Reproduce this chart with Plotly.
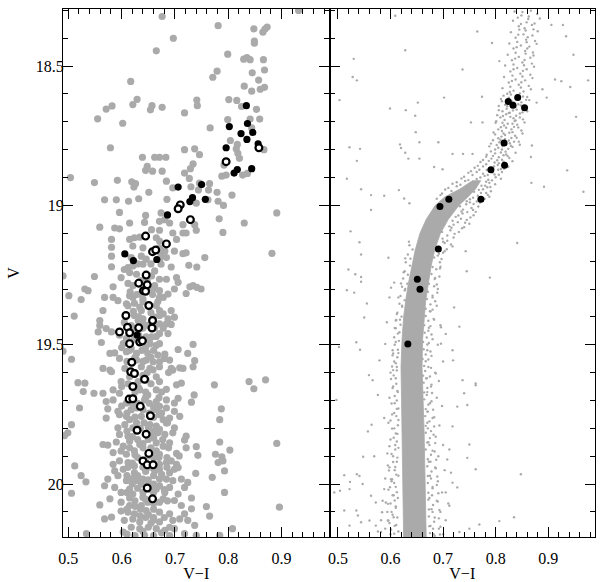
import plotly.graph_objects as go

# ---- left panel: V-I vs V, gray field, black and open stars ----
left_gray = [
    (0.932, 18.30), (0.676, 18.322), (0.781, 18.355), (0.697, 18.40), (0.848, 18.366), (0.865, 18.378), (0.869, 18.367),
    (0.873, 18.36), (0.849, 18.41), (0.849, 18.418), (0.665, 18.445), (0.799, 18.457), (0.829, 18.475), (0.835, 18.469),
    (0.841, 18.477), (0.866, 18.477), (0.868, 18.514), (0.779, 18.518), (0.771, 18.54), (0.845, 18.524), (0.857, 18.55),
    (0.617, 18.555), (0.830, 18.572), (0.86, 18.583), (0.868, 18.576), (0.844, 18.59), (0.629, 18.619), (0.621, 18.638),
    (0.801, 18.62), (0.816, 18.623), (0.741, 18.622), (0.742, 18.642), (0.657, 18.642), (0.654, 18.657), (0.676, 18.648),
    (0.582, 18.643), (0.571, 18.654), (0.825, 18.645), (0.718, 18.668), (0.853, 18.655), (0.555, 18.689), (0.602, 18.705),
    (0.799, 18.692), (0.841, 18.69), (0.859, 18.69), (0.766, 18.722), (0.844, 18.722), (0.804, 18.767), (0.579, 18.793),
    (0.718, 18.80), (0.737, 18.797), (0.746, 18.818), (0.817, 18.781), (0.815, 18.797), (0.818, 18.813), (0.821, 18.831),
    (0.867, 18.80), (0.639, 18.827), (0.662, 18.827), (0.671, 18.827), (0.683, 18.827), (0.734, 18.851), (0.729, 18.868),
    (0.648, 18.86), (0.645, 18.874), (0.658, 18.877), (0.676, 18.877), (0.792, 18.855), (0.718, 18.884), (0.727, 18.903),
    (0.788, 18.895), (0.796, 18.891), (0.827, 18.891), (0.836, 18.885), (0.504, 18.90), (0.549, 18.918), (0.592, 18.91),
    (0.619, 18.915), (0.626, 18.922), (0.623, 18.934), (0.684, 18.913), (0.730, 18.933), (0.744, 18.945), (0.765, 18.922),
    (0.763, 18.945), (0.779, 18.953), (0.807, 18.963), (0.651, 18.953), (0.696, 18.937), (0.746, 18.92),
    (0.568, 18.98), (0.59, 18.98), (0.613, 18.985), (0.632, 18.976), (0.685, 18.978), (0.740, 18.992), (0.762, 18.98),
    (0.781, 18.985), (0.791, 19.0),
    (0.596, 19.025), (0.645, 19.036), (0.674, 19.027), (0.783, 19.048), (0.830, 19.063), (0.891, 19.027),
    (0.615, 19.063), (0.643, 19.061), (0.671, 19.057), (0.681, 19.051), (0.690, 19.063), (0.715, 19.069), (0.737, 19.069),
    (0.559, 19.078), (0.587, 19.081), (0.596, 19.084), (0.656, 19.087), (0.671, 19.089), (0.696, 19.099), (0.715, 19.099),
    (0.721, 19.099), (0.740, 19.089), (0.790, 19.097), (0.581, 19.122), (0.615, 19.122), (0.624, 19.116), (0.634, 19.114),
    (0.665, 19.116), (0.671, 19.128), (0.703, 19.122), (0.581, 19.15), (0.621, 19.146), (0.640, 19.152), (0.671, 19.152),
    (0.681, 19.164), (0.699, 19.164), (0.715, 19.173), (0.721, 19.17), (0.674, 19.176), (0.581, 19.182), (0.618, 19.187),
    (0.637, 19.182), (0.646, 19.193), (0.671, 19.193), (0.684, 19.187), (0.756, 19.187), (0.882, 19.172), (0.581, 19.22),
    (0.612, 19.223), (0.621, 19.217), (0.640, 19.211), (0.674, 19.211), (0.693, 19.221), (0.726, 19.215), (0.741, 19.221),
    (0.490, 19.253), (0.549, 19.255), (0.599, 19.259), (0.615, 19.241), (0.628, 19.247), (0.656, 19.253), (0.671, 19.265),
    (0.684, 19.265), (0.703, 19.259), (0.706, 19.276), (0.584, 19.292), (0.612, 19.28), (0.621, 19.288), (0.659, 19.30),
    (0.662, 19.288), (0.671, 19.306), (0.687, 19.318), (0.699, 19.30), (0.721, 19.316), (0.728, 19.292), (0.734, 19.288),
    (0.741, 19.294), (0.749, 19.30), (0.531, 19.30), (0.537, 19.306), (0.501, 19.324), (0.524, 19.338), (0.568, 19.33),
    (0.584, 19.33), (0.593, 19.342), (0.615, 19.324), (0.621, 19.33), (0.634, 19.318), (0.640, 19.336), (0.671, 19.33),
    (0.678, 19.33), (0.609, 19.353), (0.624, 19.351), (0.634, 19.365), (0.637, 19.377), (0.665, 19.359), (0.671, 19.377),
    (0.693, 19.377), (0.565, 19.377), (0.511, 19.397), (0.559, 19.413), (0.624, 19.395), (0.631, 19.413), (0.640, 19.407),
    (0.671, 19.395), (0.678, 19.389), (0.699, 19.401), (0.687, 19.407), (0.559, 19.431), (0.571, 19.442), (0.618, 19.431),
    (0.640, 19.425), (0.659, 19.425), (0.671, 19.425), (0.684, 19.425), (0.693, 19.427), (0.662, 19.44), (0.624, 19.442),
    (0.556, 19.454), (0.581, 19.454), (0.596, 19.466), (0.609, 19.478), (0.628, 19.46), (0.646, 19.472), (0.671, 19.46),
    (0.687, 19.46), (0.656, 19.472), (0.562, 19.492), (0.603, 19.496), (0.615, 19.49), (0.653, 19.496), (0.665, 19.502),
    (0.671, 19.496), (0.734, 19.499), (0.618, 19.514), (0.490, 19.523), (0.578, 19.531), (0.587, 19.529), (0.609, 19.525),
    (0.628, 19.531), (0.649, 19.531), (0.668, 19.537), (0.681, 19.534), (0.706, 19.517), (0.724, 19.531), (0.506, 19.552),
    (0.596, 19.549), (0.628, 19.555), (0.646, 19.555), (0.659, 19.561), (0.671, 19.561), (0.737, 19.557), (0.690, 19.555),
    (0.565, 19.585), (0.578, 19.591), (0.606, 19.585), (0.637, 19.579), (0.653, 19.585), (0.671, 19.579), (0.693, 19.585),
    (0.715, 19.585), (0.734, 19.579),
    (0.581, 19.597), (0.659, 19.59), (0.696, 19.591), (0.709, 19.583), (0.518, 19.636), (0.531, 19.638), (0.599, 19.632),
    (0.631, 19.632), (0.646, 19.626), (0.671, 19.632), (0.703, 19.644), (0.712, 19.638), (0.774, 19.644), (0.839, 19.632),
    (0.848, 19.658), (0.870, 19.626), (0.528, 19.668), (0.548, 19.674), (0.565, 19.674), (0.584, 19.662), (0.596, 19.674),
    (0.634, 19.662), (0.649, 19.68), (0.665, 19.662), (0.684, 19.66), (0.736, 19.68), (0.706, 19.692), (0.571, 19.704),
    (0.584, 19.698), (0.609, 19.709), (0.643, 19.698), (0.665, 19.704), (0.684, 19.698), (0.699, 19.709), (0.731, 19.706),
    (0.671, 19.721), (0.521, 19.727), (0.574, 19.73), (0.593, 19.739), (0.618, 19.733), (0.628, 19.727), (0.640, 19.733),
    (0.665, 19.733), (0.684, 19.727), (0.699, 19.739), (0.787, 19.73), (0.571, 19.763), (0.596, 19.751), (0.609, 19.757),
    (0.615, 19.769), (0.637, 19.757), (0.671, 19.751), (0.678, 19.769), (0.690, 19.763), (0.709, 19.757), (0.784, 19.769),
    (0.506, 19.787), (0.593, 19.798), (0.606, 19.787), (0.621, 19.798), (0.653, 19.787), (0.665, 19.792), (0.671, 19.804),
    (0.699, 19.798), (0.684, 19.781), (0.493, 19.826), (0.499, 19.816), (0.596, 19.822), (0.612, 19.828), (0.656, 19.828),
    (0.668, 19.816), (0.681, 19.822), (0.696, 19.816), (0.718, 19.842), (0.721, 19.828), (0.565, 19.858), (0.574, 19.86),
    (0.590, 19.849), (0.603, 19.864), (0.615, 19.846), (0.634, 19.858), (0.665, 19.852), (0.678, 19.864), (0.690, 19.852),
    (0.721, 19.87), (0.740, 19.866), (0.784, 19.849), (0.803, 19.878), (0.891, 19.854), (0.584, 19.887), (0.599, 19.881),
    (0.609, 19.893), (0.624, 19.881), (0.665, 19.881), (0.671, 19.893), (0.703, 19.89), (0.708, 19.899), (0.743, 19.897),
    (0.776, 19.893), (0.788, 19.902), (0.512, 19.935), (0.584, 19.929), (0.596, 19.917), (0.612, 19.923), (0.624, 19.935),
    (0.671, 19.929), (0.684, 19.923), (0.693, 19.917), (0.703, 19.929), (0.781, 19.923), (0.790, 19.917), (0.524, 19.97),
    (0.587, 19.953), (0.603, 19.947), (0.624, 19.959), (0.662, 19.953), (0.671, 19.947), (0.690, 19.959), (0.699, 19.947),
    (0.706, 19.941), (0.793, 19.953), (0.739, 19.962), (0.770, 19.976), (0.533, 19.992), (0.574, 19.982), (0.593, 19.97),
    (0.609, 19.988), (0.628, 19.988), (0.640, 19.982), (0.671, 19.982), (0.684, 19.982), (0.696, 19.988), (0.712, 19.982),
    (0.724, 19.994), (0.506, 20.033), (0.568, 20.006), (0.587, 20.012), (0.615, 20.018), (0.637, 20.0), (0.671, 20.006),
    (0.665, 20.018), (0.690, 20.012), (0.718, 20.012), (0.793, 20.03), (0.578, 20.053), (0.599, 20.03), (0.621, 20.036),
    (0.640, 20.047), (0.678, 20.053), (0.681, 20.03), (0.706, 20.036), (0.731, 20.05), (0.896, 20.083), (0.559, 20.075),
    (0.599, 20.065), (0.615, 20.077), (0.637, 20.077), (0.649, 20.065), (0.671, 20.065), (0.699, 20.059), (0.712, 20.077),
    (0.731, 20.089), (0.759, 20.081), (0.568, 20.125), (0.581, 20.119), (0.599, 20.097), (0.612, 20.101), (0.624, 20.107),
    (0.646, 20.095), (0.671, 20.101), (0.690, 20.107), (0.718, 20.107), (0.765, 20.115), (0.621, 20.125), (0.634, 20.136),
    (0.659, 20.13), (0.671, 20.136), (0.696, 20.13), (0.709, 20.125), (0.724, 20.13), (0.737, 20.148), (0.534, 20.178),
    (0.603, 20.172), (0.634, 20.16), (0.643, 20.184), (0.665, 20.16), (0.681, 20.166), (0.699, 20.16), (0.718, 20.178),
    (0.740, 20.184), (0.784, 20.184), (0.808, 20.16),
]

# crowded middle of the main sequence (left panel)
left_gray_core = [
    (0.63, 19.21), (0.655, 19.21), (0.636, 19.27), (0.648, 19.27), (0.628, 19.32), (0.658, 19.32), (0.650, 19.36),
    (0.612, 19.36), (0.632, 19.40), (0.66, 19.40), (0.64, 19.44), (0.678, 19.44), (0.624, 19.48), (0.652, 19.48),
    (0.638, 19.52), (0.66, 19.52), (0.615, 19.52), (0.61, 19.56), (0.64, 19.56), (0.625, 19.60), (0.648, 19.60),
    (0.688, 19.60), (0.612, 19.64), (0.655, 19.64), (0.625, 19.67), (0.645, 19.67), (0.675, 19.67), (0.63, 19.71),
    (0.652, 19.71), (0.62, 19.71), (0.61, 19.745), (0.652, 19.745), (0.675, 19.745), (0.628, 19.78), (0.642, 19.78),
    (0.686, 19.78), (0.61, 19.81), (0.66, 19.81), (0.63, 19.84), (0.65, 19.84), (0.677, 19.84), (0.615, 19.87),
    (0.64, 19.87), (0.655, 19.87), (0.688, 19.87), (0.63, 19.905), (0.66, 19.905), (0.67, 19.905), (0.612, 19.94),
    (0.64, 19.94), (0.655, 19.94), (0.685, 19.94), (0.63, 19.97), (0.66, 19.97), (0.61, 19.97), (0.62, 20.0),
    (0.65, 20.0), (0.66, 20.0), (0.64, 20.03), (0.66, 20.03), (0.61, 20.03), (0.625, 20.06), (0.655, 20.06),
    (0.686, 20.06), (0.635, 20.09), (0.66, 20.09), (0.61, 20.09), (0.645, 20.12), (0.66, 20.12), (0.68, 20.12),
    (0.618, 20.155), (0.65, 20.155), (0.69, 20.155), (0.625, 20.185), (0.66, 20.185), (0.69, 20.185),
    (0.605, 19.23), (0.662, 19.235), (0.645, 19.3), (0.616, 19.31), (0.64, 19.345), (0.668, 19.345), (0.622, 19.38),
    (0.655, 19.385), (0.648, 19.43), (0.605, 19.42), (0.632, 19.465), (0.665, 19.47), (0.645, 19.51), (0.6, 19.51),
    (0.625, 19.545), (0.655, 19.545), (0.68, 19.55), (0.615, 19.615), (0.64, 19.61), (0.665, 19.615), (0.6, 19.65),
    (0.632, 19.655), (0.67, 19.69), (0.645, 19.69), (0.622, 19.69), (0.66, 19.725), (0.6, 19.72), (0.625, 19.76),
    (0.66, 19.76), (0.65, 19.795), (0.635, 19.8), (0.62, 19.83), (0.66, 19.835), (0.64, 19.855), (0.625, 19.895),
    (0.65, 19.9), (0.685, 19.905), (0.62, 19.925), (0.66, 19.925), (0.645, 19.955), (0.675, 19.965), (0.62, 19.98),
    (0.65, 19.985), (0.63, 20.015), (0.655, 20.02), (0.68, 20.02), (0.615, 20.05), (0.645, 20.055), (0.66, 20.07),
    (0.625, 20.08), (0.65, 20.11), (0.635, 20.115), (0.605, 20.13), (0.655, 20.14), (0.64, 20.17), (0.675, 20.175),
    (0.61, 20.18),
]

left_black = [
    (0.834, 18.642), (0.802, 18.717), (0.836, 18.706), (0.824, 18.742), (0.846, 18.738), (0.835, 18.763), (0.856, 18.779),
    (0.796, 18.793), (0.811, 18.884), (0.817, 18.871), (0.844, 18.868), (0.706, 18.934), (0.750, 18.925), (0.733, 18.972),
    (0.728, 18.986), (0.757, 18.978), (0.686, 19.034), (0.606, 19.174), (0.622, 19.198), (0.666, 19.194), (0.629, 19.465),
]

left_open = [
    (0.8575, 18.793), (0.796, 18.843), (0.710, 18.998), (0.706, 19.012), (0.729, 19.051), (0.645, 19.11), (0.684, 19.138),
    (0.658, 19.166), (0.664, 19.16), (0.646, 19.25), (0.632, 19.279), (0.648, 19.285), (0.641, 19.306), (0.645, 19.308),
    (0.651, 19.359), (0.608, 19.395), (0.658, 19.413), (0.657, 19.44), (0.611, 19.437), (0.632, 19.439), (0.596, 19.454),
    (0.615, 19.457), (0.634, 19.49), (0.639, 19.486), (0.615, 19.496), (0.619, 19.563), (0.617, 19.597), (0.624, 19.603),
    (0.643, 19.624), (0.621, 19.65), (0.614, 19.695), (0.621, 19.694), (0.635, 19.721), (0.654, 19.755), (0.629, 19.807),
    (0.646, 19.821), (0.651, 19.89), (0.640, 19.917), (0.648, 19.931), (0.659, 19.931), (0.648, 20.014), (0.658, 20.053),
]

# ---- right panel: dense cluster sequence ----
# edges of the saturated main-sequence ridge
core_v = [18.91, 18.94, 18.97, 19.00, 19.05, 19.10, 19.16, 19.22, 19.28, 19.34, 19.40, 19.48, 19.58, 19.70, 19.82, 19.94, 20.06, 20.20]
core_left = [0.757, 0.733, 0.703, 0.685, 0.668, 0.656, 0.647, 0.640, 0.634, 0.629, 0.625, 0.622, 0.620, 0.621, 0.622, 0.623, 0.624, 0.625]
core_right = [0.772, 0.762, 0.747, 0.730, 0.710, 0.695, 0.684, 0.677, 0.672, 0.667, 0.664, 0.661, 0.660, 0.662, 0.664, 0.666, 0.667, 0.668]

# speckled giant branch and subgiant stars
right_branch = [
    (0.836, 18.304), (0.849, 18.318), (0.851, 18.306), (0.863, 18.322), (0.867, 18.301), (0.879, 18.313),
    (0.833, 18.337), (0.842, 18.326), (0.859, 18.343), (0.862, 18.331), (0.874, 18.347), (0.884, 18.329),
    (0.844, 18.357), (0.848, 18.349), (0.855, 18.364), (0.869, 18.352), (0.872, 18.368),
    (0.829, 18.378), (0.845, 18.369), (0.853, 18.386), (0.857, 18.372), (0.87, 18.39), (0.88, 18.375),
    (0.838, 18.398), (0.843, 18.387), (0.858, 18.405), (0.861, 18.396), (0.875, 18.41),
    (0.826, 18.419), (0.841, 18.413), (0.848, 18.426), (0.859, 18.414), (0.864, 18.43), (0.878, 18.42),
    (0.834, 18.437), (0.84, 18.432), (0.856, 18.446), (0.86, 18.437), (0.871, 18.451),
    (0.823, 18.459), (0.838, 18.452), (0.844, 18.467), (0.857, 18.455), (0.866, 18.47), (0.872, 18.462),
    (0.831, 18.479), (0.837, 18.473), (0.851, 18.487), (0.855, 18.478), (0.869, 18.491),
    (0.818, 18.498), (0.834, 18.494), (0.841, 18.507), (0.854, 18.497), (0.859, 18.511), (0.873, 18.502),
    (0.828, 18.519), (0.834, 18.511), (0.847, 18.527), (0.852, 18.517), (0.866, 18.531),
    (0.816, 18.539), (0.832, 18.534), (0.838, 18.548), (0.851, 18.537), (0.856, 18.551), (0.87, 18.543),
    (0.825, 18.559), (0.831, 18.553), (0.844, 18.567), (0.849, 18.558), (0.863, 18.571),
    (0.813, 18.579), (0.828, 18.574), (0.834, 18.588), (0.848, 18.577), (0.853, 18.591), (0.867, 18.583),
    (0.822, 18.599), (0.827, 18.593), (0.841, 18.607), (0.846, 18.598), (0.86, 18.611),
    (0.81, 18.618), (0.825, 18.613), (0.831, 18.627), (0.844, 18.617), (0.849, 18.63), (0.864, 18.622),
    (0.818, 18.639), (0.824, 18.634), (0.838, 18.647), (0.843, 18.637), (0.857, 18.651),
    (0.806, 18.658), (0.821, 18.653), (0.827, 18.667), (0.84, 18.656), (0.846, 18.67), (0.86, 18.662),
    (0.814, 18.679), (0.82, 18.673), (0.834, 18.687), (0.839, 18.678), (0.852, 18.691),
    (0.801, 18.698), (0.817, 18.693), (0.823, 18.707), (0.836, 18.697), (0.841, 18.71), (0.855, 18.702),
    (0.81, 18.719), (0.816, 18.713), (0.83, 18.727), (0.835, 18.718), (0.849, 18.731),
    (0.796, 18.738), (0.812, 18.733), (0.818, 18.747), (0.832, 18.737), (0.837, 18.75), (0.851, 18.742),
    (0.805, 18.759), (0.811, 18.753), (0.825, 18.767), (0.83, 18.758), (0.844, 18.771),
    (0.791, 18.778), (0.807, 18.773), (0.813, 18.787), (0.827, 18.777), (0.832, 18.79), (0.846, 18.782),
    (0.799, 18.799), (0.805, 18.793), (0.819, 18.807), (0.824, 18.797), (0.838, 18.811),
    (0.783, 18.818), (0.799, 18.813), (0.806, 18.827), (0.82, 18.817), (0.826, 18.83),
    (0.776, 18.837), (0.792, 18.832), (0.798, 18.846), (0.812, 18.836), (0.818, 18.85), (0.832, 18.841),
    (0.766, 18.858), (0.782, 18.852), (0.789, 18.866), (0.804, 18.855), (0.81, 18.869), (0.824, 18.861),
    (0.753, 18.877), (0.769, 18.872), (0.776, 18.886), (0.791, 18.875), (0.798, 18.889), (0.812, 18.88),
    (0.74, 18.897), (0.756, 18.891), (0.764, 18.905), (0.779, 18.894), (0.786, 18.908), (0.8, 18.899), (0.81, 18.904),
    (0.726, 18.917), (0.742, 18.912), (0.75, 18.925), (0.766, 18.915), (0.773, 18.929), (0.788, 18.919), (0.799, 18.924),
    (0.71, 18.937), (0.726, 18.931), (0.768, 18.944), (0.784, 18.935), (0.791, 18.949),
    (0.698, 18.957), (0.759, 18.951), (0.766, 18.965), (0.782, 18.955), (0.788, 18.969),
    (0.688, 18.976), (0.757, 18.972), (0.764, 18.986), (0.779, 18.976),
    (0.744, 18.996), (0.751, 18.989), (0.767, 19.004), (0.738, 19.015), (0.754, 19.009), (0.762, 19.023),
    (0.729, 19.036), (0.737, 19.029), (0.752, 19.043), (0.718, 19.055), (0.734, 19.048), (0.742, 19.062),
    (0.712, 19.075), (0.72, 19.069), (0.736, 19.082), (0.698, 19.095), (0.714, 19.089), (0.722, 19.102),
    (0.699, 19.119), (0.708, 19.127), (0.692, 19.149), (0.707, 19.157),
]

# the thicker lower giant branch / turn-off bend
right_bend = [
    (0.815, 18.606), (0.829, 18.602), (0.838, 18.615), (0.852, 18.609), (0.858, 18.621), (0.812, 18.626), (0.822, 18.644),
    (0.835, 18.631), (0.848, 18.641), (0.806, 18.643), (0.813, 18.662), (0.825, 18.668), (0.833, 18.659), (0.851, 18.666),
    (0.803, 18.676), (0.809, 18.684), (0.828, 18.682), (0.838, 18.695), (0.846, 18.684), (0.8, 18.703), (0.813, 18.703),
    (0.82, 18.721), (0.832, 18.707), (0.843, 18.72), (0.805, 18.727), (0.799, 18.745), (0.815, 18.742), (0.826, 18.739),
    (0.84, 18.757), (0.809, 18.764), (0.795, 18.766), (0.818, 18.762), (0.82, 18.781), (0.835, 18.771), (0.788, 18.788),
    (0.802, 18.783), (0.812, 18.799), (0.829, 18.786), (0.791, 18.806), (0.81, 18.81), (0.815, 18.82), (0.782, 18.825),
    (0.795, 18.822), (0.803, 18.838), (0.823, 18.823), (0.771, 18.844), (0.787, 18.84), (0.806, 18.848), (0.815, 18.843),
    (0.776, 18.86), (0.797, 18.86), (0.76, 18.865), (0.783, 18.873), (0.805, 18.872), (0.816, 18.868), (0.748, 18.883),
    (0.764, 18.88), (0.785, 18.891), (0.794, 18.882), (0.806, 18.89), (0.735, 18.903), (0.748, 18.909), (0.771, 18.9),
    (0.782, 18.915), (0.793, 18.91), (0.718, 18.922), (0.733, 18.926), (0.758, 18.918), (0.78, 18.929), (0.79, 18.934),
    (0.704, 18.943), (0.716, 18.948), (0.76, 18.938), (0.772, 18.955), (0.776, 18.942), (0.695, 18.963), (0.748, 18.958),
    (0.772, 18.975), (0.785, 18.962), (0.751, 18.978), (0.745, 18.985), (0.758, 18.995), (0.77, 18.99), (0.732, 19.003),
    (0.757, 19.016), (0.746, 19.024), (0.735, 19.022), (0.758, 19.035), (0.724, 19.041), (0.745, 19.052), (0.728, 19.06),
    (0.75, 19.066), (0.716, 19.08), (0.74, 19.078), (0.73, 19.095), (0.708, 19.108), (0.72, 19.115), (0.703, 19.135),
    (0.715, 19.14), (0.7, 19.17),
]

# stars hugging the blue and red edges of the ridge
ridge_blue = [
    (0.636, 19.143), (0.642, 19.158), (0.633, 19.176), (0.638, 19.191), (0.629, 19.204), (0.637, 19.216), (0.627, 19.236),
    (0.633, 19.249), (0.624, 19.262), (0.632, 19.281), (0.622, 19.292), (0.627, 19.305), (0.619, 19.325), (0.627, 19.34),
    (0.617, 19.353), (0.622, 19.364), (0.613, 19.385), (0.621, 19.399), (0.611, 19.411), (0.619, 19.428), (0.61, 19.441),
    (0.617, 19.455), (0.607, 19.473), (0.616, 19.486), (0.608, 19.5), (0.614, 19.518), (0.605, 19.531), (0.613, 19.545),
    (0.61, 19.566), (0.603, 19.578), (0.612, 19.592), (0.606, 19.61), (0.601, 19.623), (0.611, 19.64), (0.604, 19.655),
    (0.613, 19.666), (0.608, 19.684), (0.612, 19.7), (0.602, 19.711), (0.615, 19.729), (0.607, 19.745), (0.611, 19.756),
    (0.6, 19.772), (0.614, 19.789), (0.603, 19.801), (0.61, 19.818), (0.606, 19.834), (0.612, 19.847), (0.598, 19.864),
    (0.609, 19.876), (0.602, 19.892), (0.613, 19.905), (0.605, 19.921), (0.609, 19.939), (0.597, 19.951), (0.611, 19.966),
    (0.603, 19.983), (0.607, 19.996), (0.599, 20.011), (0.612, 20.029), (0.604, 20.04), (0.608, 20.059), (0.595, 20.071),
    (0.61, 20.085), (0.602, 20.1), (0.606, 20.119), (0.596, 20.131), (0.611, 20.147), (0.601, 20.163), (0.607, 20.178),
]
ridge_red = [
    (0.688, 19.158), (0.692, 19.173), (0.703, 19.164), (0.683, 19.187), (0.694, 19.204), (0.697, 19.192), (0.68, 19.221),
    (0.687, 19.229), (0.694, 19.226), (0.678, 19.246), (0.684, 19.264), (0.693, 19.255), (0.673, 19.281), (0.683, 19.29),
    (0.688, 19.284), (0.671, 19.31), (0.68, 19.324), (0.689, 19.313), (0.669, 19.336), (0.676, 19.355), (0.685, 19.344),
    (0.667, 19.371), (0.676, 19.38), (0.68, 19.374), (0.667, 19.397), (0.672, 19.414), (0.682, 19.407), (0.664, 19.43),
    (0.673, 19.439), (0.676, 19.433), (0.665, 19.457), (0.669, 19.474), (0.678, 19.463), (0.662, 19.49), (0.67, 19.499),
    (0.673, 19.494), (0.663, 19.516), (0.667, 19.535), (0.676, 19.524), (0.661, 19.551), (0.667, 19.559), (0.672, 19.553),
    (0.664, 19.576), (0.666, 19.594), (0.677, 19.583), (0.662, 19.611), (0.669, 19.62), (0.675, 19.614), (0.663, 19.636),
    (0.67, 19.655), (0.678, 19.643), (0.664, 19.671), (0.669, 19.68), (0.679, 19.673), (0.664, 19.696), (0.672, 19.715),
    (0.678, 19.703), (0.667, 19.731), (0.67, 19.74), (0.681, 19.733), (0.666, 19.756), (0.674, 19.775), (0.68, 19.763),
    (0.667, 19.791), (0.671, 19.8), (0.683, 19.793), (0.667, 19.816), (0.675, 19.835), (0.682, 19.823), (0.67, 19.851),
    (0.674, 19.86), (0.685, 19.853), (0.667, 19.876), (0.677, 19.895), (0.684, 19.883), (0.671, 19.911), (0.676, 19.92),
    (0.687, 19.913), (0.67, 19.936), (0.678, 19.955), (0.686, 19.943), (0.671, 19.971), (0.677, 19.98), (0.689, 19.973),
    (0.671, 19.996), (0.68, 20.015), (0.688, 20.003), (0.672, 20.031), (0.679, 20.04), (0.691, 20.033), (0.672, 20.056),
    (0.681, 20.075), (0.69, 20.063), (0.673, 20.091), (0.68, 20.1), (0.693, 20.093), (0.673, 20.116), (0.683, 20.135),
    (0.692, 20.123), (0.674, 20.151), (0.681, 20.16), (0.695, 20.153), (0.675, 20.176), (0.684, 20.186), (0.694, 20.181),
]

right_halo = [
    (0.635, 19.13), (0.628, 19.19), (0.625, 19.24), (0.62, 19.28), (0.628, 19.3), (0.615, 19.33), (0.622, 19.36),
    (0.612, 19.39), (0.618, 19.41), (0.608, 19.44), (0.614, 19.46), (0.61, 19.49), (0.604, 19.52), (0.615, 19.53),
    (0.607, 19.56), (0.612, 19.58), (0.6, 19.6), (0.61, 19.62), (0.605, 19.65), (0.614, 19.67), (0.598, 19.69),
    (0.608, 19.71), (0.612, 19.73), (0.603, 19.75), (0.615, 19.77), (0.596, 19.78), (0.607, 19.8), (0.613, 19.82),
    (0.6, 19.84), (0.609, 19.86), (0.615, 19.87), (0.594, 19.89), (0.605, 19.9), (0.612, 19.92), (0.598, 19.94),
    (0.608, 19.95), (0.615, 19.97), (0.59, 19.98), (0.602, 19.99), (0.61, 20.01), (0.596, 20.02), (0.606, 20.04),
    (0.614, 20.05), (0.585, 20.06), (0.6, 20.07), (0.61, 20.08), (0.594, 20.1), (0.604, 20.11), (0.613, 20.12),
    (0.582, 20.13), (0.598, 20.14), (0.608, 20.15), (0.59, 20.16), (0.615, 20.17), (0.6, 20.18), (0.576, 20.17),
    (0.7, 19.13), (0.69, 19.18), (0.695, 19.22), (0.685, 19.26), (0.69, 19.3), (0.68, 19.33), (0.688, 19.36),
    (0.675, 19.38), (0.683, 19.41), (0.695, 19.43), (0.672, 19.45), (0.68, 19.48), (0.69, 19.5), (0.67, 19.52),
    (0.678, 19.54), (0.7, 19.56), (0.672, 19.58), (0.685, 19.6), (0.668, 19.62), (0.692, 19.63), (0.677, 19.65),
    (0.67, 19.67), (0.688, 19.69), (0.675, 19.71), (0.698, 19.72), (0.671, 19.74), (0.683, 19.76), (0.67, 19.78),
    (0.693, 19.79), (0.677, 19.81), (0.686, 19.83), (0.672, 19.85), (0.7, 19.86), (0.68, 19.88), (0.691, 19.9),
    (0.673, 19.92), (0.685, 19.94), (0.703, 19.95), (0.675, 19.97), (0.69, 19.99), (0.68, 20.01), (0.698, 20.03),
    (0.674, 20.05), (0.688, 20.06), (0.71, 20.07), (0.678, 20.09), (0.695, 20.1), (0.684, 20.12), (0.705, 20.13),
    (0.676, 20.15), (0.692, 20.16), (0.682, 20.18), (0.7, 20.18),
]

right_field = [
    (0.609, 18.319), (0.628, 18.443), (0.53, 18.474), (0.528, 18.539), (0.536, 18.551), (0.503, 18.622), (0.599, 18.652),
    (0.629, 18.658), (0.652, 18.631), (0.647, 18.678), (0.737, 18.512), (0.702, 18.613), (0.774, 18.61), (0.765, 18.376),
    (0.793, 18.417), (0.807, 18.482), (0.906, 18.352), (0.928, 18.352), (0.934, 18.393), (0.948, 18.459), (0.913, 18.548),
    (0.925, 18.554), (0.976, 18.551), (0.942, 18.575), (0.889, 18.583), (0.897, 18.613), (0.953, 18.682), (0.618, 18.781),
    (0.62, 18.794), (0.628, 18.811), (0.522, 18.791), (0.542, 18.797), (0.536, 18.84), (0.648, 18.737), (0.655, 18.773),
    (0.691, 18.773), (0.634, 18.832), (0.655, 18.832), (0.517, 18.904), (0.544, 18.942), (0.588, 18.965), (0.616, 18.945),
    (0.683, 18.862), (0.699, 18.87), (0.718, 18.815), (0.738, 18.815), (0.756, 18.815), (0.868, 18.919), (0.892, 18.933),
    (0.936, 18.874), (0.967, 18.951), (0.878, 18.631), (0.867, 18.826), (0.869, 18.785), (0.775, 18.702), (0.753, 18.702),
    (0.563, 19.016), (0.524, 19.093), (0.541, 19.132), (0.596, 19.188), (0.52, 19.23), (0.533, 19.247), (0.544, 19.257),
    (0.544, 19.274), (0.517, 19.304), (0.531, 19.313), (0.555, 19.352), (0.55, 19.402), (0.502, 19.508), (0.535, 19.491),
    (0.542, 19.518), (0.579, 19.556), (0.559, 19.609), (0.566, 19.627), (0.593, 19.419), (0.61, 19.413), (0.598, 19.33),
    (0.601, 19.295), (0.607, 19.277), (0.59, 19.497), (0.604, 19.538), (0.605, 19.591), (0.841, 19.135), (0.745, 19.236),
    (0.789, 19.259), (0.721, 19.366), (0.718, 19.52), (0.719, 19.556), (0.731, 19.435), (0.696, 19.437), (0.705, 19.461),
    (0.696, 19.496), (0.636, 18.992), (0.626, 18.975), (0.563, 18.963), (0.743, 19.164), (0.718, 19.147), (0.762, 19.645),
    (0.686, 19.603), (0.544, 19.176), (0.497, 19.698), (0.576, 19.68), (0.564, 19.787), (0.557, 19.811), (0.588, 19.763),
    (0.548, 19.902), (0.569, 19.9), (0.595, 19.933), (0.512, 19.968), (0.493, 20.03), (0.504, 20.024), (0.523, 19.992),
    (0.522, 20.018), (0.536, 19.965), (0.541, 19.971), (0.547, 20.0), (0.512, 20.095), (0.535, 20.095), (0.522, 20.149),
    (0.544, 20.137), (0.538, 20.113), (0.56, 20.131), (0.572, 20.149), (0.582, 20.172), (0.595, 20.131), (0.563, 20.042),
    (0.572, 20.066), (0.588, 20.018), (0.601, 19.983), (0.591, 20.066), (0.584, 20.101), (0.737, 19.627), (0.762, 19.639),
    (0.74, 19.674), (0.727, 19.722), (0.746, 19.716), (0.718, 19.793), (0.75, 19.858), (0.762, 19.947), (0.746, 19.906),
    (0.712, 19.876), (0.708, 19.912), (0.715, 19.959), (0.727, 20.012), (0.718, 19.995), (0.705, 20.03), (0.712, 20.078),
    (0.848, 19.965), (0.769, 20.145), (0.807, 20.133), (0.835, 20.119), (0.731, 20.172), (0.75, 20.16),
]

right_black = [
    (0.824, 18.627), (0.842, 18.613), (0.833, 18.64), (0.855, 18.649), (0.816, 18.776), (0.817, 18.856), (0.791, 18.872),
    (0.772, 18.978), (0.711, 18.978), (0.694, 19.004), (0.691, 19.156), (0.651, 19.265), (0.656, 19.301), (0.633, 19.497),
]

GRAY = "#aaaaaa"
FONT = "Liberation Serif, Times New Roman, serif"


def split(points):
    xs, ys = zip(*points)
    return list(xs), list(ys)


def add_points(fig, points, col, **marker):
    xs, ys = split(points)
    fig.add_trace(go.Scatter(x=xs, y=ys, mode="markers", marker=marker, showlegend=False, hoverinfo="skip",
                             xaxis="x" if col == 1 else "x2", yaxis="y" if col == 1 else "y2"))


fig = go.Figure()

# left panel
add_points(fig, left_gray + left_gray_core, 1, size=7.2, color=GRAY, line=dict(width=0))
add_points(fig, left_black, 1, size=7.2, color="black", line=dict(width=0))
add_points(fig, left_open, 1, size=6.8, color="white", line=dict(color="black", width=2.2))

# right panel: solid ridge traced from its edges, then single stars
fig.add_trace(go.Scatter(x=core_left + core_right[::-1], y=core_v + core_v[::-1], mode="lines", fill="toself",
                         fillcolor=GRAY, line=dict(width=0.8, color=GRAY), showlegend=False, hoverinfo="skip",
                         xaxis="x2", yaxis="y2"))
small = right_branch + right_bend + ridge_blue + ridge_red + right_halo + right_field
add_points(fig, small, 2, size=2.4, color=GRAY, line=dict(width=0))
add_points(fig, right_black, 2, size=7, color="black", line=dict(width=0))

axis_style = dict(
    showline=True, linecolor="black", linewidth=1.2, mirror="ticks", showgrid=False, zeroline=False,
    ticks="inside", ticklen=10, tickwidth=1, tickcolor="black",
    tickfont=dict(family=FONT, size=16, color="black"),
)
x_style = dict(axis_style, tick0=0.5, dtick=0.1, ticklabelstandoff=7,
               minor=dict(ticks="inside", ticklen=5, tickwidth=1, tickcolor="black", dtick=0.02, tick0=0.5, showgrid=False),
               title=dict(text="V\u2212I", font=dict(family=FONT, size=16, color="black"), standoff=0))
y_style = dict(axis_style, tick0=18.5, dtick=0.5, range=[20.19, 18.295], ticklabelstandoff=-5,
               minor=dict(ticks="inside", ticklen=5, tickwidth=1, tickcolor="black", dtick=0.1, tick0=18.5, showgrid=False))

fig.update_layout(
    width=600,
    height=582,
    margin=dict(l=63, r=4, t=9, b=40),
    paper_bgcolor="white",
    plot_bgcolor="white",
    font=dict(family=FONT, size=16, color="black"),
    xaxis=dict(x_style, domain=[0, 0.501], range=[0.49, 0.99], anchor="y"),
    xaxis2=dict(x_style, domain=[0.501, 1], range=[0.484, 0.989], anchor="y2"),
    yaxis=dict(y_style, anchor="x", title=dict(text="V", font=dict(family=FONT, size=16, color="black"), standoff=12)),
    yaxis2=dict(y_style, anchor="x2", matches="y", showticklabels=False),
)

fig.write_html("out.html", config={"displayModeBar": False}, post_script="document.body.style.margin='0';")
